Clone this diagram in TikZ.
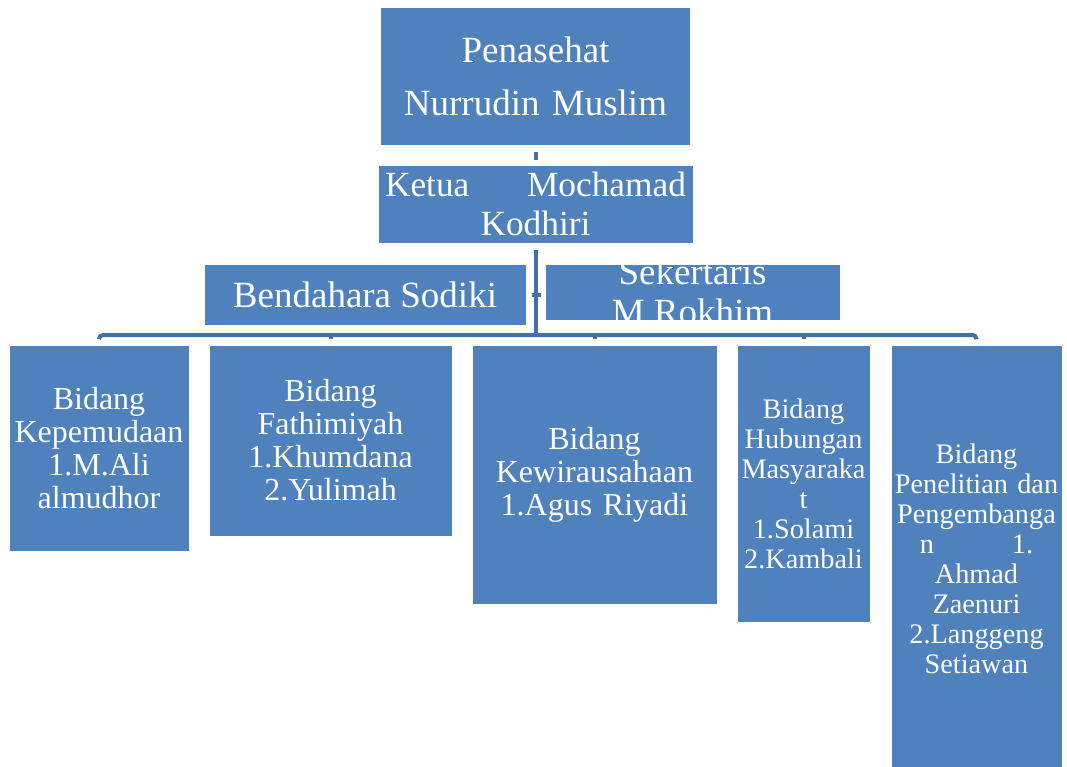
\documentclass[tikz,border=0pt]{standalone}
\usepackage{fontspec}
\setmainfont{Liberation Serif}
\usepackage{tikz}
\definecolor{orgblue}{RGB}{79,129,189}
\definecolor{orgline}{RGB}{66,112,167}
\tikzstyle{blockOrg} = [rectangle, draw=white, line width=0.75pt, fill=orgblue, text=white, align=center, inner sep=0pt]
\tikzstyle{textOrg} = [text=white, align=center, inner sep=0pt]
\tikzstyle{line} = [draw=orgline, line width=3pt]
\tikzstyle{fontL} = [font=\fontsize{27.75pt}{39.75pt}\selectfont]
\tikzstyle{fontK} = [font=\fontsize{26.5pt}{29.25pt}\selectfont]
\tikzstyle{fontM} = [font=\fontsize{24pt}{24.75pt}\selectfont]
\tikzstyle{fontS} = [font=\fontsize{21.2pt}{22.5pt}\selectfont]

\begin{document}
\begin{tikzpicture}[x=0.75pt, y=-0.75pt]
  \useasboundingbox (0,0) rectangle (1067,767);

    % nodes
    \node [blockOrg, fontL, minimum width=232.5pt, minimum height=102.75pt, text width=225pt] (pen) at (535.5,76.5) {Penasehat\\Nurrudin Muslim};
    \node [blockOrg, fontK, minimum width=236.25pt, minimum height=58.5pt, text width=225.75pt] (ket) at (535.5,204) {\makebox[\linewidth]{Ketua\hfill Mochamad}\\Kodhiri};
    \node [blockOrg, fontL, minimum width=241.5pt, minimum height=45.75pt] (bend) at (365,294.5) {Bendahara Sodiki};
    \node [blockOrg, minimum width=221.25pt, minimum height=42pt] (sek) at (692.5,292) {};
    \node [textOrg, fontL, font=\fontsize{27.75pt}{30pt}\selectfont, text width=215pt] (sek_txt) at (sek.center) {Sekertaris\\M.Rokhim};

    \node [blockOrg, fontM, minimum width=135pt, minimum height=154.5pt, text width=130pt] (b1) at (99,448) {Bidang\\Kepemudaan\\1.M.Ali\\almudhor};
    \node [blockOrg, fontM, minimum width=182.25pt, minimum height=143.25pt, text width=175pt] (b2) at (330.5,440.5) {Bidang\\Fathimiyah\\1.Khumdana\\2.Yulimah};
    \node [blockOrg, fontM, minimum width=183.75pt, minimum height=194.25pt, text width=178pt] (b3) at (594.5,474.5) {Bidang\\Kewirausahaan\\1.Agus Riyadi};
    \node [blockOrg, fontS, minimum width=99.75pt, minimum height=207.75pt, text width=97pt] (b4) at (803.5,483.5) {Bidang\\Hubungan\\Masyaraka\\t\\1.Solami\\2.Kambali};
    \node [blockOrg, fontS, minimum width=128.25pt, minimum height=321pt, text width=126pt] (b5) at (976.5,559) {Bidang\\Penelitian dan\\Pengembanga\\n\hspace{58.5pt}1.\\Ahmad\\Zaenuri\\2.Langgeng\\Setiawan};

    % edges
    \coordinate (hub) at (535.5,335);
    \path [line, shorten <=4.5pt, shorten >=3.75pt] (pen.south) -- (ket.north);
    \path [line, shorten <=4.5pt] (ket.south) -- (hub);
    \path [line, shorten <=3.75pt, shorten >=3pt] (bend.east) -- (bend.east -| sek.west);
    \path [line, rounded corners=3pt] ([yshift=4pt]b1.north) |- (hub) -| ([yshift=4pt]b5.north);
    \foreach \b in {b2,b3,b4}
      \path [line] (\b.north |- hub) -- ([yshift=4pt]\b.north);

\end{tikzpicture}
\end{document}
